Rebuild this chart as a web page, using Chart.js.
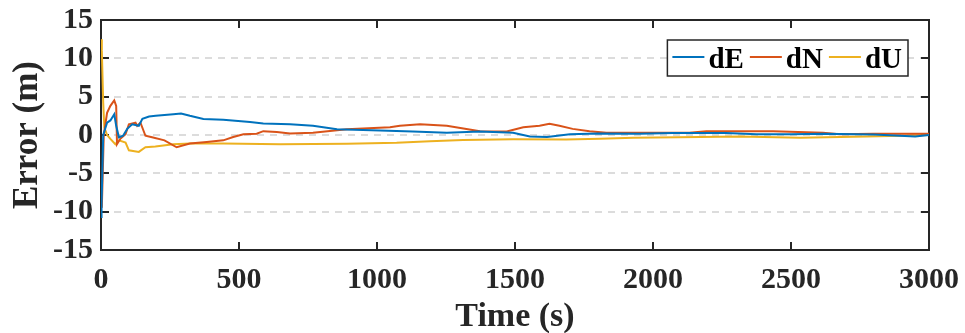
<!DOCTYPE html>
<html>
<head>
<meta charset="utf-8">
<script src="https://cdn.jsdelivr.net/npm/chart.js@4/dist/chart.umd.min.js"></script>
<style>
  html, body { margin: 0; padding: 0; background: #ffffff; }
  canvas { display: block; }
</style>
</head>
<body>
<canvas id="c" width="965" height="333"></canvas>
<script>
// ---- data ----
const seriesLabels = ['dE', 'dN', 'dU'];

const timeE = [0, 2, 8, 22, 34, 48, 55, 65, 80, 95, 113, 137, 150, 174, 198, 262, 290, 322, 371, 443, 540, 588, 685, 768, 855, 1011, 1130, 1253, 1373, 1493, 1554, 1616, 1699, 1800, 1950, 2072, 2265, 2375, 2500, 2616, 2800, 2950, 3000];
const valuesE = [-10.7, -9, 0, 1.6, 1.9, 2.7, 1.2, -0.3, -0.1, 0.8, 1.4, 1.2, 2.1, 2.4, 2.5, 2.7, 2.8, 2.5, 2.1, 2.0, 1.7, 1.5, 1.4, 1.2, 0.75, 0.6, 0.45, 0.3, 0.45, 0.3, -0.2, -0.25, 0.1, 0.2, 0.15, 0.25, 0.25, 0.1, 0.1, 0.15, 0.05, -0.2, 0];

const timeN = [0, 3, 10, 22, 34, 48, 55, 58, 70, 89, 101, 125, 131, 143, 161, 185, 230, 274, 322, 383, 443, 479, 516, 564, 588, 637, 685, 768, 891, 1047, 1083, 1156, 1253, 1373, 1470, 1530, 1589, 1625, 1661, 1709, 1770, 1831, 1951, 2132, 2193, 2435, 2616, 2676, 2800, 3000];
const valuesN = [-8.5, -9.5, 0, 2.9, 3.8, 4.5, 3.8, -1.2, -0.5, 0.1, 1.4, 1.6, 1.2, 1.6, -0.1, -0.3, -0.7, -1.6, -1.1, -0.9, -0.7, -0.26, 0.1, 0.17, 0.5, 0.4, 0.2, 0.3, 0.75, 1.0, 1.2, 1.4, 1.2, 0.5, 0.45, 1.0, 1.2, 1.45, 1.2, 0.8, 0.5, 0.3, 0.3, 0.3, 0.5, 0.5, 0.3, 0.1, 0.15, 0.15];

const timeU = [0, 3, 8, 12, 22, 34, 52, 65, 89, 101, 137, 161, 197, 262, 322, 443, 649, 891, 1071, 1192, 1312, 1493, 1685, 1808, 1929, 2170, 2314, 2533, 2774, 2900, 3000];
const valuesU = [12.5, 11, 4.2, 1, 0, -0.5, -1.2, -0.7, -1.0, -2.0, -2.2, -1.6, -1.5, -1.2, -1.1, -1.1, -1.2, -1.15, -1.0, -0.8, -0.65, -0.57, -0.6, -0.5, -0.35, -0.26, -0.2, -0.35, -0.2, -0.1, 0];

const xTicks = [0, 500, 1000, 1500, 2000, 2500, 3000];
const yTicks = [-15, -10, -5, 0, 5, 10, 15];
const xTitle = 'Time (s)';
const yTitle = 'Error (m)';

// ---- styling ----
const colors = ['#0072BD', '#D95319', '#EDB120'];
const FONT = "'Liberation Serif', 'Times New Roman', serif";
const AXIS = '#262626';

function toPoints(ts, vs) { return ts.map((t, i) => ({ x: t, y: vs[i] })); }

const framePlugin = {
  id: 'frame',
  beforeDatasetsDraw(chart) {
    const { ctx, chartArea: a, scales } = chart;
    ctx.save();
    ctx.strokeStyle = AXIS;
    ctx.lineWidth = 2;
    const tl = 8;
    ctx.beginPath();
    xTicks.forEach(v => {
      const x = Math.round(scales.x.getPixelForValue(v));
      if (v === xTicks[0] || v === xTicks[xTicks.length - 1]) return;
      ctx.moveTo(x, a.bottom); ctx.lineTo(x, a.bottom - tl);
      ctx.moveTo(x, a.top); ctx.lineTo(x, a.top + tl);
    });
    yTicks.forEach(v => {
      const y = Math.round(scales.y.getPixelForValue(v));
      if (v === yTicks[0] || v === yTicks[yTicks.length - 1]) return;
      ctx.moveTo(a.left, y); ctx.lineTo(a.left + tl, y);
      ctx.moveTo(a.right, y); ctx.lineTo(a.right - tl, y);
    });
    ctx.stroke();
    ctx.strokeRect(a.left, a.top, a.right - a.left, a.bottom - a.top);
    ctx.restore();
  }
};

const legendPlugin = {
  id: 'boxLegend',
  afterDraw(chart) {
    const { ctx, chartArea: a } = chart;
    const ds = chart.data.datasets;
    ctx.save();
    ctx.font = 'bold 29px ' + FONT;
    const lineLen = 32, gapLT = 4, gapItem = 6, padL = 5;
    let total = padL;
    const widths = ds.map(d => ctx.measureText(d.label).width);
    widths.forEach(w => { total += lineLen + gapLT + w + gapItem; });
    const h = 36;
    const right = a.right - 21;
    const left = right - total;
    const top = a.top + 20;
    ctx.fillStyle = '#ffffff';
    ctx.fillRect(left, top, total, h);
    ctx.strokeStyle = AXIS;
    ctx.lineWidth = 1.5;
    ctx.strokeRect(left, top, total, h);
    let x = left + padL;
    const cy = top + h / 2 - 1;
    ds.forEach((d, i) => {
      ctx.strokeStyle = d.borderColor;
      ctx.lineWidth = 2;
      ctx.beginPath();
      ctx.moveTo(x, cy); ctx.lineTo(x + lineLen, cy);
      ctx.stroke();
      ctx.fillStyle = '#000000';
      ctx.textBaseline = 'alphabetic';
      ctx.textAlign = 'left';
      ctx.fillText(d.label, x + lineLen + gapLT, top + 28);
      x += lineLen + gapLT + widths[i] + gapItem;
    });
    ctx.restore();
  }
};

const datasets = [
  { label: seriesLabels[0], data: toPoints(timeE, valuesE), borderColor: colors[0] },
  { label: seriesLabels[1], data: toPoints(timeN, valuesN), borderColor: colors[1] },
  { label: seriesLabels[2], data: toPoints(timeU, valuesU), borderColor: colors[2] }
].map(d => Object.assign(d, { borderWidth: 2, pointRadius: 0, tension: 0, fill: false, backgroundColor: d.borderColor }));

new Chart(document.getElementById('c'), {
  type: 'line',
  data: { datasets },
  plugins: [framePlugin, legendPlugin],
  options: {
    responsive: false,
    animation: false,
    devicePixelRatio: 1,
    layout: { padding: { top: 20, right: 36, left: 0, bottom: 0 } },
    plugins: { legend: { display: false }, tooltip: { enabled: false } },
    scales: {
      x: {
        type: 'linear', min: 0, max: 3000,
        afterBuildTicks(s) { s.ticks = xTicks.map(v => ({ value: v })); },
        afterFit(s) { s.height = 83; s.paddingRight = 0; s.paddingLeft = 0; },
        ticks: { color: AXIS, font: { family: FONT, size: 30, weight: 'bold' }, padding: 4, maxRotation: 0, autoSkip: false, callback: (v) => String(v) },
        grid: { display: false },
        border: { display: false },
        title: { display: true, text: xTitle, color: AXIS, font: { family: FONT, size: 34, weight: 'bold', lineHeight: 0.9 }, padding: { top: 0, bottom: 0 } }
      },
      y: {
        type: 'linear', min: -15, max: 15,
        afterBuildTicks(s) { s.ticks = yTicks.map(v => ({ value: v })); },
        afterFit(s) { s.width = 101; s.paddingTop = 0; s.paddingBottom = 0; },
        ticks: { color: AXIS, font: { family: FONT, size: 30, weight: 'bold' }, padding: 8, autoSkip: false, callback: (v) => String(v) },
        grid: {
          color: (c) => (c.tick && (c.tick.value === 15 || c.tick.value === -15)) ? 'rgba(0,0,0,0)' : '#dcdcdc',
          lineWidth: 2, drawTicks: false
        },
        border: { display: false, dash: [7, 6] },
        title: { display: true, text: yTitle, color: AXIS, font: { family: FONT, size: 35, weight: 'bold' }, padding: { top: 7, bottom: 0 } }
      }
    }
  }
});
</script>
</body>
</html>
